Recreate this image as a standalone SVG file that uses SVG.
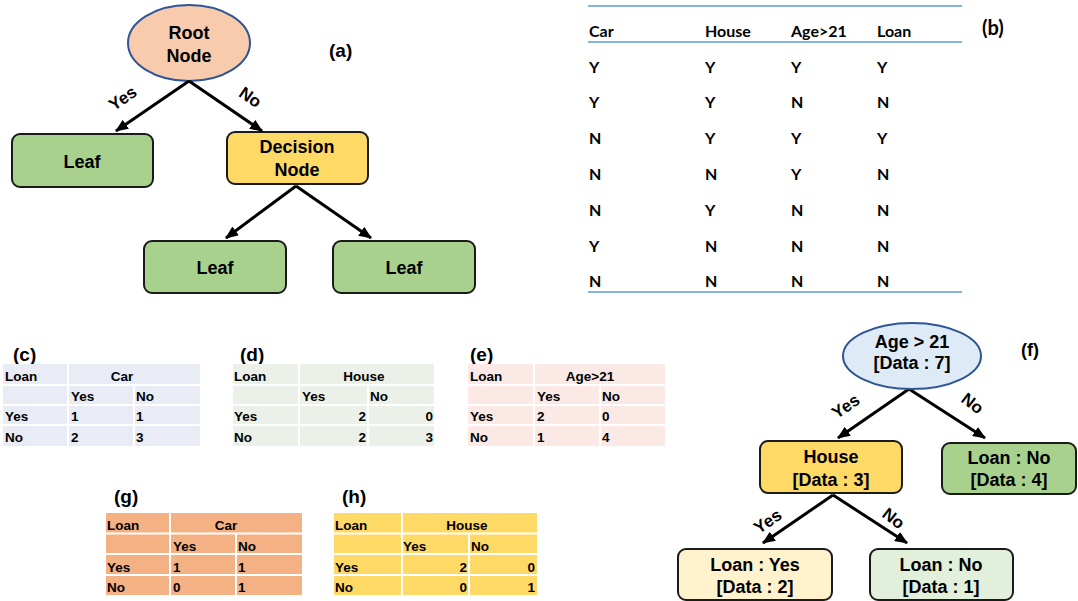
<svg xmlns="http://www.w3.org/2000/svg" width="1078" height="601" viewBox="0 0 1078 601">
<defs>
<marker id="ah" viewBox="0 0 12 10" refX="11" refY="5" markerWidth="13" markerHeight="11" markerUnits="userSpaceOnUse" orient="auto"><path d="M0,0 L12,5 L0,10 z" fill="#000"/></marker>
<style>
.n{font-family:"Liberation Sans",Arial,sans-serif;font-weight:bold;font-size:18px;fill:#000;text-anchor:middle}
.lb{font-family:"Liberation Sans",Arial,sans-serif;font-weight:bold;font-size:17px;fill:#000;text-anchor:middle}
.pl{font-family:"Liberation Sans",Arial,sans-serif;font-weight:bold;font-size:19px;fill:#000}
.box{stroke:#1a1a1a;stroke-width:2}
.ell{stroke:#2F5597;stroke-width:2}
.ar{stroke:#000;stroke-width:3;fill:none;marker-end:url(#ah)}
.t{font-family:"Liberation Sans",Arial,sans-serif;font-weight:bold;font-size:13.5px;fill:#000}
.tc{text-anchor:middle}
.tr{text-anchor:end}
.g{stroke:#fff;stroke-width:2}
.b{font-family:Lato,"Liberation Sans",sans-serif;font-weight:bold;font-size:16px;fill:#000}
.bl{stroke:#5B9BD5;stroke-width:1.5}
</style>
</defs>

<!-- (a) -->
<g id="a-root"><ellipse class="ell" cx="189" cy="43" rx="61" ry="38" fill="#F8CBAD"/><text class="n" x="189" y="39">Root</text><text class="n" x="189" y="62">Node</text></g>
<g id="a-leaf1"><rect class="box" x="12" y="134" width="141" height="53" rx="8" fill="#A9D18E"/><text class="n" x="82" y="168">Leaf</text></g>
<g id="a-decision"><rect class="box" x="227" y="132" width="141" height="52" rx="8" fill="#FFD966"/><text class="n" x="297" y="153">Decision</text><text class="n" x="297" y="176">Node</text></g>
<g id="a-leaf2"><rect class="box" x="144" y="241" width="142" height="52" rx="8" fill="#A9D18E"/><text class="n" x="215" y="274">Leaf</text></g>
<g id="a-leaf3"><rect class="box" x="333" y="241" width="142" height="52" rx="8" fill="#A9D18E"/><text class="n" x="404" y="274">Leaf</text></g>
<text class="pl" x="329" y="57">(a)</text>

<g id="connectors">
<line class="ar" x1="189" y1="81" x2="116" y2="131"/>
<line class="ar" x1="189" y1="81" x2="262" y2="131"/>
<line class="ar" x1="296" y1="186" x2="226" y2="238"/>
<line class="ar" x1="296" y1="186" x2="371" y2="238"/>
<line class="ar" x1="909" y1="389" x2="838" y2="438"/>
<line class="ar" x1="909" y1="389" x2="985" y2="438"/>
<line class="ar" x1="833" y1="495" x2="763" y2="543"/>
<line class="ar" x1="833" y1="495" x2="907" y2="543"/>
<text class="lb" transform="translate(126,103) rotate(-34)">Yes</text>
<text class="lb" transform="translate(247,102) rotate(35)">No</text>
<text class="lb" transform="translate(849,411) rotate(-34)">Yes</text>
<text class="lb" transform="translate(969,408) rotate(38)">No</text>
<text class="lb" transform="translate(771,526) rotate(-34)">Yes</text>
<text class="lb" transform="translate(890,523) rotate(38)">No</text>
</g>

<!-- (b) -->
<g id="table-b">
<line class="bl" x1="588" y1="6" x2="962" y2="6"/>
<line class="bl" x1="588" y1="42" x2="962" y2="42"/>
<line class="bl" x1="588" y1="292" x2="962" y2="292"/>
<text class="b" x="589" y="37">Car</text><text class="b" x="705" y="37">House</text><text class="b" x="791" y="37">Age&gt;21</text><text class="b" x="877" y="37">Loan</text>
<text class="b" x="589" y="73">Y</text><text class="b" x="705" y="73">Y</text><text class="b" x="791" y="73">Y</text><text class="b" x="877" y="73">Y</text>
<text class="b" x="589" y="108">Y</text><text class="b" x="705" y="108">Y</text><text class="b" x="791" y="108">N</text><text class="b" x="877" y="108">N</text>
<text class="b" x="589" y="144">N</text><text class="b" x="705" y="144">Y</text><text class="b" x="791" y="144">Y</text><text class="b" x="877" y="144">Y</text>
<text class="b" x="589" y="180">N</text><text class="b" x="705" y="180">N</text><text class="b" x="791" y="180">Y</text><text class="b" x="877" y="180">N</text>
<text class="b" x="589" y="216">N</text><text class="b" x="705" y="216">Y</text><text class="b" x="791" y="216">N</text><text class="b" x="877" y="216">N</text>
<text class="b" x="589" y="252">Y</text><text class="b" x="705" y="252">N</text><text class="b" x="791" y="252">N</text><text class="b" x="877" y="252">N</text>
<text class="b" x="589" y="287">N</text><text class="b" x="705" y="287">N</text><text class="b" x="791" y="287">N</text><text class="b" x="877" y="287">N</text>
<text class="b" x="982" y="35" style="font-size:20px">(b)</text>
</g>

<!-- (c) -->
<g id="table-c">
<text class="pl" x="13" y="361">(c)</text>
<rect x="3" y="364" width="197" height="82" fill="#E9EBF5"/>
<line class="g" x1="3" y1="385" x2="200" y2="385"/><line class="g" x1="3" y1="405" x2="200" y2="405"/><line class="g" x1="3" y1="425" x2="200" y2="425"/>
<line class="g" x1="68" y1="364" x2="68" y2="446"/><line class="g" x1="134" y1="385" x2="134" y2="446"/>
<text class="t" x="5" y="381">Loan</text><text class="t tc" x="122" y="381">Car</text>
<text class="t" x="71" y="401">Yes</text><text class="t" x="136" y="401">No</text>
<text class="t" x="5" y="421">Yes</text><text class="t" x="71" y="421">1</text><text class="t" x="136" y="421">1</text>
<text class="t" x="5" y="442">No</text><text class="t" x="71" y="442">2</text><text class="t" x="136" y="442">3</text>
</g>

<!-- (d) -->
<g id="table-d">
<text class="pl" x="240" y="361">(d)</text>
<rect x="233" y="364" width="201" height="82" fill="#EBF0E8"/>
<line class="g" x1="233" y1="385" x2="434" y2="385"/><line class="g" x1="233" y1="405" x2="434" y2="405"/><line class="g" x1="233" y1="425" x2="434" y2="425"/>
<line class="g" x1="299" y1="364" x2="299" y2="446"/><line class="g" x1="368" y1="385" x2="368" y2="446"/>
<text class="t" x="234" y="381">Loan</text><text class="t tc" x="364" y="381">House</text>
<text class="t" x="302" y="401">Yes</text><text class="t" x="370" y="401">No</text>
<text class="t" x="234" y="421">Yes</text><text class="t tr" x="366" y="421">2</text><text class="t tr" x="433" y="421">0</text>
<text class="t" x="234" y="442">No</text><text class="t tr" x="366" y="442">2</text><text class="t tr" x="433" y="442">3</text>
</g>

<!-- (e) -->
<g id="table-e">
<text class="pl" x="470" y="361">(e)</text>
<rect x="468" y="364" width="197" height="82" fill="#FBE9E6"/>
<line class="g" x1="468" y1="385" x2="665" y2="385"/><line class="g" x1="468" y1="405" x2="665" y2="405"/><line class="g" x1="468" y1="425" x2="665" y2="425"/>
<line class="g" x1="534" y1="364" x2="534" y2="446"/><line class="g" x1="600" y1="385" x2="600" y2="446"/>
<text class="t" x="470" y="381">Loan</text><text class="t tc" x="590" y="381">Age&gt;21</text>
<text class="t" x="537" y="401">Yes</text><text class="t" x="602" y="401">No</text>
<text class="t" x="470" y="421">Yes</text><text class="t" x="537" y="421">2</text><text class="t" x="602" y="421">0</text>
<text class="t" x="470" y="442">No</text><text class="t" x="537" y="442">1</text><text class="t" x="602" y="442">4</text>
</g>

<!-- (g) -->
<g id="table-g">
<text class="pl" x="114" y="503">(g)</text>
<rect x="106" y="513" width="196" height="82" fill="#F4B183"/>
<line class="g" x1="106" y1="533.5" x2="302" y2="533.5"/><line class="g" x1="106" y1="554" x2="302" y2="554"/><line class="g" x1="106" y1="575" x2="302" y2="575"/>
<line class="g" x1="170" y1="513" x2="170" y2="595"/><line class="g" x1="236" y1="533.5" x2="236" y2="595"/>
<text class="t" x="107" y="530">Loan</text><text class="t tc" x="226" y="530">Car</text>
<text class="t" x="173" y="551">Yes</text><text class="t" x="238" y="551">No</text>
<text class="t" x="107" y="572">Yes</text><text class="t" x="173" y="572">1</text><text class="t" x="238" y="572">1</text>
<text class="t" x="107" y="592">No</text><text class="t" x="173" y="592">0</text><text class="t" x="238" y="592">1</text>
</g>

<!-- (h) -->
<g id="table-h">
<text class="pl" x="342" y="503">(h)</text>
<rect x="334" y="513" width="203" height="82" fill="#FFD966"/>
<line class="g" x1="334" y1="533.5" x2="537" y2="533.5"/><line class="g" x1="334" y1="554" x2="537" y2="554"/><line class="g" x1="334" y1="575" x2="537" y2="575"/>
<line class="g" x1="402" y1="513" x2="402" y2="595"/><line class="g" x1="469" y1="533.5" x2="469" y2="595"/>
<text class="t" x="335" y="530">Loan</text><text class="t tc" x="467" y="530">House</text>
<text class="t" x="403" y="551">Yes</text><text class="t" x="471" y="551">No</text>
<text class="t" x="335" y="572">Yes</text><text class="t tr" x="467" y="572">2</text><text class="t tr" x="535" y="572">0</text>
<text class="t" x="335" y="592">No</text><text class="t tr" x="467" y="592">0</text><text class="t tr" x="535" y="592">1</text>
</g>

<!-- (f) -->
<g id="f-root"><ellipse class="ell" cx="912" cy="356" rx="69" ry="33" fill="#DEEBF7"/><text class="n" x="912" y="348">Age &gt; 21</text><text class="n" x="912" y="369">[Data : 7]</text></g>
<g id="f-house"><rect class="box" x="760" y="441" width="142" height="52" rx="8" fill="#FFD966"/><text class="n" x="831" y="463">House</text><text class="n" x="831" y="486">[Data : 3]</text></g>
<g id="f-loan-no-4"><rect class="box" x="942" y="443" width="134" height="51" rx="8" fill="#A9D18E"/><text class="n" x="1009" y="464">Loan : No</text><text class="n" x="1009" y="486">[Data : 4]</text></g>
<g id="f-loan-yes-2"><rect class="box" x="678" y="549" width="154" height="51" rx="8" fill="#FFF2CC"/><text class="n" x="755" y="571">Loan : Yes</text><text class="n" x="755" y="593">[Data : 2]</text></g>
<g id="f-loan-no-1"><rect class="box" x="870" y="549" width="143" height="51" rx="8" fill="#E2EFDA"/><text class="n" x="941" y="571">Loan : No</text><text class="n" x="941" y="593">[Data : 1]</text></g>
<text class="pl" x="1021" y="356" style="font-size:18px">(f)</text>
</svg>
